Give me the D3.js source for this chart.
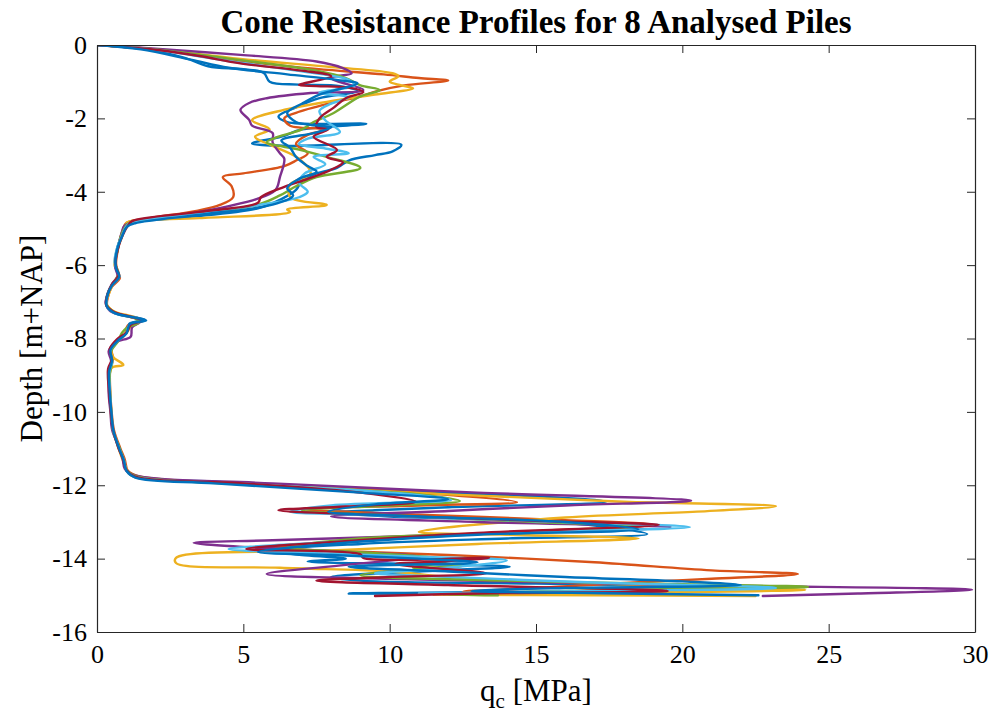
<!DOCTYPE html>
<html>
<head>
<meta charset="utf-8">
<script src="https://cdn.jsdelivr.net/npm/d3@7"></script>
<style>
  html, body { margin: 0; padding: 0; background: #fff; }
  svg { display: block; }
  text { font-family: "Liberation Serif", "Times New Roman", serif; fill: #000; }
</style>
</head>
<body>
<svg id="chart" width="995" height="724"></svg>
<script>
// Cone resistance q_c [MPa] against depth [m+NAP], one CPT profile per pile.
// Each point is [qc, depth].
const pile1 = [[0,0],[1.5,-0.1],[3.0,-0.35],[3.8,-0.58],[5.0,-0.66],[5.7,-0.76],[5.9,-1.0],[6.9,-1.08],[8.3,-1.12],[8.9,-1.25],[7.6,-1.45],[6.8,-1.7],[6.2,-1.95],[6.5,-2.1],[9.2,-2.15],[7.0,-2.3],[6.3,-2.5],[5.3,-2.68],[6.5,-2.75],[10.4,-2.72],[10.1,-2.9],[9.5,-3.0],[8.6,-3.15],[8.2,-3.35],[7.5,-3.5],[7.0,-3.7],[6.8,-3.95],[6.3,-4.2],[5.5,-4.45],[3.0,-4.7],[1.2,-4.85],
  [1.0,-4.95],[0.85,-5.2],[0.7,-5.5],[0.62,-5.9],[0.65,-6.1],[0.75,-6.3],[0.5,-6.55],[0.35,-6.8],[0.32,-7.1],[0.6,-7.3],[1.3,-7.42],[1.65,-7.5],[1.1,-7.6],[1.0,-7.85],[0.7,-8.05],[0.45,-8.3],[0.5,-8.6],[0.4,-8.9],[0.42,-9.4],[0.48,-10.0],[0.55,-10.5],[0.75,-11.0],[0.9,-11.3],[1.0,-11.6],[1.3,-11.78],
  [4,-11.9],[10,-12.15],[15,-12.3],[17.4,-12.45],[12,-12.6],[9.5,-12.68],[8.0,-12.74],[10,-12.85],[14,-12.95],[17,-13.1],[18.8,-13.33],[14,-13.45],[9,-13.6],[5.6,-13.8],[7.0,-13.9],[8.5,-14.0],[7.2,-14.08],[11,-14.15],[14.1,-14.22],[11,-14.35],[8,-14.5],[9,-14.6],[15,-14.68],[20,-14.75],[22.7,-14.8],[17,-14.88],[8.6,-14.95],[12,-14.96],[18.8,-14.93]];

const pile2 = [[0,0],[2,-0.12],[4.5,-0.4],[7.5,-0.65],[9.8,-0.8],[11.0,-0.9],[12.0,-0.97],[10.5,-1.1],[9.6,-1.25],[8.9,-1.42],[7.9,-1.6],[6.8,-1.85],[6.4,-2.0],[6.6,-2.2],[7.9,-2.3],[7.2,-2.45],[6.8,-2.7],[7.2,-2.95],[6.8,-3.15],[6.4,-3.3],[5.0,-3.5],[4.3,-3.6],[4.6,-3.85],[4.65,-4.15],[4.2,-4.36],[3.4,-4.52],[1.8,-4.72],[1.0,-4.85],
  [0.9,-5.0],[0.8,-5.25],[0.72,-5.55],[0.65,-5.95],[0.7,-6.15],[0.78,-6.35],[0.5,-6.6],[0.38,-6.85],[0.35,-7.1],[0.7,-7.32],[1.35,-7.45],[1.5,-7.52],[1.05,-7.65],[0.95,-7.9],[0.75,-8.05],[0.5,-8.3],[0.55,-8.55],[0.45,-8.85],[0.45,-9.4],[0.5,-10.0],[0.58,-10.5],[0.8,-11.0],[0.95,-11.3],[1.05,-11.6],[1.4,-11.75],
  [5,-11.95],[10,-12.15],[14.35,-12.46],[11,-12.55],[7,-12.65],[11,-12.8],[16,-12.95],[19.0,-13.08],[15,-13.25],[11,-13.4],[8.5,-13.55],[5.8,-13.72],[8.5,-13.8],[12,-13.9],[17,-14.1],[21,-14.32],[23.95,-14.42],[21,-14.55],[18.8,-14.63],[15,-14.8],[12.5,-14.9],[16,-14.93],[19.5,-14.97]];

const pile3 = [[0,0],[2,-0.12],[4.9,-0.38],[8,-0.6],[10.1,-0.77],[10.3,-0.85],[10.0,-1.0],[10.4,-1.1],[10.8,-1.18],[9.5,-1.35],[7.85,-1.55],[6.5,-1.75],[5.3,-2.05],[5.9,-2.3],[5.4,-2.5],[6.0,-2.75],[6.9,-3.1],[7.3,-3.5],[6.6,-3.8],[6.6,-4.15],[7.85,-4.36],[6.5,-4.48],[6.6,-4.55],[3.5,-4.72],[1.0,-4.85],
  [0.95,-5.0],[0.82,-5.3],[0.68,-5.6],[0.6,-6.0],[0.72,-6.25],[0.55,-6.5],[0.4,-6.8],[0.32,-7.05],[0.55,-7.25],[1.2,-7.4],[1.55,-7.5],[1.2,-7.62],[1.05,-7.8],[0.8,-8.0],[0.5,-8.25],[0.55,-8.5],[0.9,-8.72],[0.5,-8.8],[0.42,-9.2],[0.45,-9.8],[0.52,-10.4],[0.7,-10.9],[0.85,-11.25],[1.0,-11.55],[1.15,-11.72],
  [5,-11.95],[12,-12.25],[18,-12.45],[23.2,-12.57],[20.5,-12.72],[16,-12.88],[11.0,-13.27],[14,-13.35],[18.5,-13.45],[13,-13.6],[8,-13.78],[2.7,-13.98],[2.7,-14.12],[6.25,-14.25],[10,-14.35],[12,-14.5],[16,-14.65],[20,-14.75],[24.2,-14.85],[19,-14.92],[11.5,-14.98],[17,-15.0],[22.5,-15.02]];

const pile4 = [[0,0],[2,-0.1],[4.9,-0.27],[7.5,-0.45],[8.4,-0.63],[8.7,-0.77],[8.0,-0.9],[9.1,-1.23],[7.3,-1.31],[5.8,-1.45],[5.2,-1.58],[4.9,-1.77],[5.2,-2.04],[5.3,-2.2],[6.0,-2.4],[6.0,-2.65],[6.25,-2.95],[6.4,-3.1],[6.25,-3.6],[6.1,-3.95],[5.45,-4.2],[3.5,-4.55],[1.6,-4.78],[0.95,-4.92],
  [0.85,-5.1],[0.75,-5.4],[0.66,-5.75],[0.62,-6.05],[0.7,-6.3],[0.52,-6.5],[0.38,-6.75],[0.3,-7.0],[0.45,-7.25],[1.1,-7.4],[1.5,-7.52],[1.2,-7.7],[1.15,-7.95],[0.65,-8.1],[0.4,-8.35],[0.48,-8.6],[0.42,-8.95],[0.4,-9.5],[0.46,-10.0],[0.52,-10.5],[0.75,-10.95],[0.88,-11.3],[0.95,-11.55],[1.25,-11.72],
  [6,-11.95],[13,-12.2],[20.3,-12.42],[16,-12.55],[12,-12.7],[8,-12.85],[13,-13.0],[19.6,-13.14],[12,-13.35],[6,-13.5],[3.3,-13.57],[5,-13.68],[8,-13.8],[11,-13.95],[8.5,-14.17],[5.8,-14.42],[10,-14.55],[20,-14.72],[29.9,-14.85],[26,-14.95],[22.75,-15.02]];

const pile5 = [[0,0],[2,-0.12],[4.8,-0.4],[7.5,-0.7],[8.5,-0.9],[9.0,-1.1],[9.67,-1.23],[9.0,-1.4],[8.07,-1.86],[7.4,-2.1],[7.0,-2.3],[6.2,-2.5],[5.8,-2.65],[6.9,-2.85],[7.85,-3.05],[9.0,-3.35],[7.5,-3.6],[6.8,-3.85],[6.25,-4.1],[5.5,-4.35],[3.0,-4.65],[1.1,-4.85],
  [0.95,-4.98],[0.8,-5.25],[0.7,-5.6],[0.62,-5.95],[0.74,-6.25],[0.5,-6.55],[0.36,-6.8],[0.33,-7.08],[0.62,-7.3],[1.3,-7.45],[1.45,-7.55],[1.0,-7.72],[0.85,-7.85],[0.7,-8.1],[0.48,-8.35],[0.52,-8.65],[0.44,-8.95],[0.45,-9.5],[0.5,-10.1],[0.56,-10.55],[0.78,-11.0],[0.92,-11.32],[1.02,-11.6],[1.35,-11.76],
  [5,-11.98],[11,-12.25],[12.4,-12.43],[10,-12.55],[7,-12.68],[11,-12.85],[15,-13.0],[18.5,-13.12],[14,-13.3],[9,-13.45],[6.5,-13.7],[9.5,-13.85],[12,-14.05],[10.8,-14.25],[12.5,-14.2],[9.0,-14.45],[14,-14.6],[20,-14.7],[24.3,-14.77],[18,-14.85],[11.8,-14.97],[13.7,-15.0]];

const pile6 = [[0,0],[2,-0.13],[4.6,-0.45],[7,-0.72],[8.6,-0.95],[8.8,-1.1],[7.6,-1.3],[8.6,-1.42],[8.0,-1.6],[7.6,-1.8],[7.8,-2.05],[8.3,-2.37],[7.2,-2.55],[6.9,-2.7],[7.8,-2.82],[8.6,-2.95],[7.4,-3.05],[7.8,-3.25],[7.1,-3.5],[6.9,-3.75],[7.2,-4.0],[6.9,-4.15],[5.6,-4.35],[3.2,-4.62],[1.15,-4.84],
  [0.98,-4.97],[0.84,-5.22],[0.69,-5.52],[0.6,-5.92],[0.68,-6.12],[0.76,-6.32],[0.48,-6.58],[0.36,-6.82],[0.33,-7.12],[0.64,-7.32],[1.32,-7.44],[1.62,-7.52],[1.12,-7.62],[0.98,-7.88],[0.72,-8.06],[0.46,-8.32],[0.52,-8.62],[0.42,-8.92],[0.44,-9.45],[0.49,-10.05],[0.56,-10.52],[0.77,-11.02],[0.92,-11.32],[1.02,-11.62],[1.32,-11.77],
  [5,-11.96],[10,-12.2],[12.1,-12.4],[8,-12.55],[6.6,-12.72],[9,-12.8],[15,-12.98],[20.26,-13.14],[14,-13.3],[8,-13.55],[4.5,-13.74],[7.5,-13.85],[11,-13.95],[14,-14.05],[11.2,-14.3],[9.5,-14.4],[10.5,-14.45],[17,-14.65],[23.2,-14.8],[17,-14.88],[11,-14.95]];

const pile7 = [[0,0],[2,-0.13],[3.5,-0.3],[4.9,-0.5],[7,-0.7],[8.0,-0.85],[6.9,-1.09],[7.5,-1.12],[8.6,-1.16],[9.1,-1.28],[8.5,-1.45],[8.1,-1.7],[7.6,-2.0],[7.5,-2.23],[7.9,-2.3],[7.4,-2.5],[8.2,-2.86],[7.85,-3.05],[8.4,-3.2],[8.0,-3.4],[7.2,-3.65],[6.4,-3.87],[5.6,-4.15],[5.5,-4.3],[3.5,-4.55],[1.2,-4.8],
  [1.05,-4.93],[0.88,-5.18],[0.74,-5.48],[0.63,-5.88],[0.66,-6.08],[0.74,-6.28],[0.52,-6.52],[0.37,-6.78],[0.31,-7.08],[0.58,-7.28],[1.28,-7.43],[1.58,-7.51],[1.15,-7.63],[1.02,-7.83],[0.68,-8.02],[0.44,-8.28],[0.5,-8.58],[0.38,-8.82],[0.4,-9.35],[0.47,-9.95],[0.54,-10.45],[0.73,-10.98],[0.89,-11.28],[1.0,-11.58],[1.28,-11.76],
  [5,-11.95],[9,-12.2],[10.9,-12.45],[8.5,-12.58],[6.2,-12.68],[10,-12.82],[15,-12.97],[19.2,-13.08],[13,-13.3],[8,-13.55],[5.1,-13.74],[9,-13.88],[9.1,-13.98],[13.4,-13.98],[12,-14.07],[10.2,-14.15],[13.3,-14.4],[10,-14.5],[7.5,-14.6],[12,-14.72],[19.5,-14.88],[13,-14.95],[9.5,-15.02]];

const pile8 = [[0,0],[1.5,-0.12],[3.2,-0.4],[4.5,-0.62],[6.5,-0.8],[8.2,-0.95],[8.9,-1.05],[8.3,-1.2],[7.6,-1.35],[7.0,-1.6],[6.5,-1.85],[6.8,-2.1],[7.6,-2.2],[8.0,-2.25],[7.4,-2.4],[6.3,-2.6],[6.6,-2.8],[6.8,-3.05],[7.2,-3.3],[7.5,-3.45],[6.9,-3.65],[6.5,-3.9],[6.7,-4.1],[6.0,-4.35],[3.6,-4.62],[1.3,-4.86],
  [1.02,-4.96],[0.86,-5.21],[0.71,-5.51],[0.63,-5.91],[0.66,-6.11],[0.76,-6.31],[0.51,-6.56],[0.36,-6.81],[0.33,-7.11],[0.61,-7.31],[1.31,-7.43],[1.68,-7.51],[1.12,-7.61],[1.01,-7.86],[0.71,-8.06],[0.46,-8.31],[0.51,-8.61],[0.41,-8.91],[0.43,-9.41],[0.49,-10.01],[0.56,-10.51],[0.76,-11.01],[0.91,-11.31],[1.01,-11.61],[1.31,-11.79],
  [4,-11.95],[9,-12.2],[12,-12.38],[9.5,-12.52],[7.9,-12.72],[11,-12.85],[16,-13.0],[18.5,-13.2],[13,-13.35],[8,-13.6],[5.5,-13.82],[8,-13.9],[11,-14.0],[13,-14.1],[8.6,-14.22],[12,-14.35],[16,-14.5],[20,-14.62],[22,-14.72],[16,-14.8],[12.8,-14.88],[18,-14.95],[22.6,-15.0]];

const profiles = [pile1, pile2, pile3, pile4, pile5, pile6, pile7, pile8];
const lineColors = ["#0072BD", "#D95319", "#EDB120", "#7E2F8E", "#77AC30", "#4DBEEE", "#A2142F", "#0072BD"];
const xTicks = [0, 5, 10, 15, 20, 25, 30];
const yTicks = [0, -2, -4, -6, -8, -10, -12, -14, -16];

const svg = d3.select("#chart");
const margin = { left: 97, top: 45, right: 20, bottom: 92 };
const W = 995, H = 724;
const x0 = margin.left, x1 = W - margin.right;
const y0 = margin.top, y1 = H - margin.bottom;

const x = d3.scaleLinear().domain([0, 30]).range([x0, x1]);
const y = d3.scaleLinear().domain([-16, 0]).range([y1, y0]);

const axisColor = "#262626";
const tickLen = 8;
// plain hyphen-minus for negative tick labels
const plainNumber = d => String(d);

// profile lines, clipped to the axes box
svg.append("defs").append("clipPath").attr("id", "plotClip")
  .append("rect").attr("x", x0).attr("y", y0).attr("width", x1 - x0).attr("height", y1 - y0);

const line = d3.line()
  .x(d => x(d[0]))
  .y(d => y(d[1]))
  .curve(d3.curveCatmullRom.alpha(0.5));

svg.append("g").attr("clip-path", "url(#plotClip)")
  .selectAll("path")
  .data(profiles)
  .join("path")
  .attr("d", line)
  .attr("fill", "none")
  .attr("stroke", (d, i) => lineColors[i])
  .attr("stroke-width", 2.4)
  .attr("stroke-linejoin", "round")
  .attr("stroke-linecap", "round");

// axes box with inward ticks
function styleAxis(g) {
  g.selectAll(".domain").attr("stroke", axisColor).attr("stroke-width", 1.2);
  g.selectAll(".tick line").attr("stroke", axisColor).attr("stroke-width", 1);
  g.selectAll(".tick text").attr("fill", "#000").style("font-size", "26px")
    .style("font-family", '"Liberation Serif", "Times New Roman", serif');
}

svg.append("g").attr("transform", `translate(0,${y1})`)
  .call(d3.axisBottom(x).tickValues(xTicks).tickSizeInner(-tickLen).tickSizeOuter(0).tickPadding(13).tickFormat(plainNumber))
  .call(styleAxis);
svg.append("g").attr("transform", `translate(0,${y0})`)
  .call(d3.axisTop(x).tickValues(xTicks).tickSizeInner(-tickLen).tickSizeOuter(0).tickFormat(""))
  .call(styleAxis);
svg.append("g").attr("transform", `translate(${x0},0)`)
  .call(d3.axisLeft(y).tickValues(yTicks).tickSizeInner(-tickLen).tickSizeOuter(0).tickPadding(10).tickFormat(plainNumber))
  .call(styleAxis);
svg.append("g").attr("transform", `translate(${x1},0)`)
  .call(d3.axisRight(y).tickValues(yTicks).tickSizeInner(-tickLen).tickSizeOuter(0).tickFormat(""))
  .call(styleAxis);

// title and axis labels
svg.append("text")
  .attr("x", (x0 + x1) / 2).attr("y", 33)
  .attr("text-anchor", "middle")
  .style("font-size", "33px").style("font-weight", "bold")
  .text("Cone Resistance Profiles for 8 Analysed Piles");

const xl = svg.append("text")
  .attr("x", (x0 + x1) / 2).attr("y", 701)
  .attr("text-anchor", "middle")
  .style("font-size", "31px");
xl.append("tspan").text("q");
xl.append("tspan").attr("dy", 7).style("font-size", "21px").text("c");
xl.append("tspan").attr("dy", -7).text(" [MPa]");

svg.append("text")
  .attr("transform", `translate(42,${(y0 + y1) / 2}) rotate(-90)`)
  .attr("text-anchor", "middle")
  .style("font-size", "31px")
  .text("Depth [m+NAP]");
</script>
</body>
</html>
